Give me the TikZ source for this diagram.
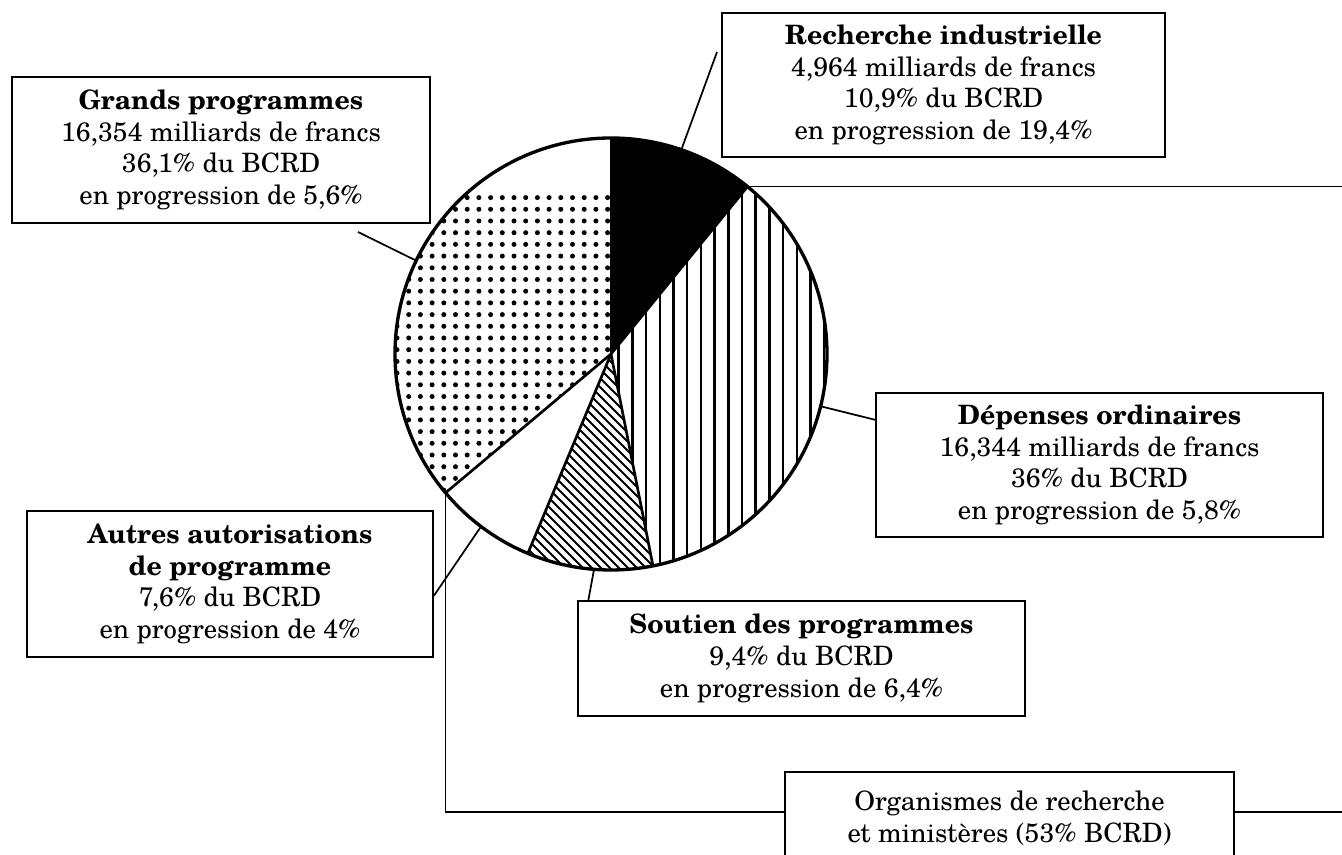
\documentclass[tikz,border=0pt]{standalone}
\usepackage{fontspec}
\setmainfont{texgyreschola}[Extension=.otf,UprightFont=*-regular,BoldFont=*-bold,ItalicFont=*-italic,BoldItalicFont=*-bolditalic]
\usetikzlibrary{calc}
\tikzset{
  lbl/.style={draw, line width=1.3pt, fill=white, align=center, inner sep=0pt,
              font=\fontsize{20}{23.8}\selectfont},
  conn/.style={line width=1.3pt},
  sep/.style={line width=2pt},
  rim/.style={line width=2.5pt},
}
\begin{document}
\begin{tikzpicture}[x=0.75pt,y=0.75pt]
\useasboundingbox (0,0) rectangle (1342,855);
\clip (0,0) rectangle (1342,855);
\fill[white] (0,0) rectangle (1342,855);
\coordinate (O) at (611,501);
\coordinate (farR) at (1370,0);

% --- dotted slice: Grands programmes
\begin{scope}
  \clip (O) -- ++(90:216) arc[start angle=90,end angle=220,radius=216] -- cycle;
  \foreach \i in {0,...,19}{\foreach \j in {0,...,32}{
    \fill (397+\i*11.7, 283+\j*11.7) circle[radius=2.5];}}
\end{scope}
% --- dark slice: Recherche industrielle
\fill (O) -- ++(50.8:216) arc[start angle=50.8,end angle=90,radius=216] -- cycle;
% --- vertical stripes: Depenses ordinaires
\begin{scope}
  \clip (O) -- ++(281.2:216) arc[start angle=281.2,end angle=410.8,radius=216] -- cycle;
  \foreach \k in {0,...,17}{\draw[line width=1.9pt] (605+\k*13.7, 250) -- ++(0,500);}
\end{scope}
% --- hatched slice: Soutien des programmes
\begin{scope}
  \clip (O) -- ++(247.36:216) arc[start angle=247.36,end angle=281.2,radius=216] -- cycle;
  \foreach \c in {780,789,...,1180}{\draw[line width=1.4pt] (\c-520, 520) -- (\c-270, 270);}
\end{scope}

% --- anchor points on the pie
\coordinate (pG) at ($(O)+(154.4:216)$);
\coordinate (gG) at (358,623);
\coordinate (pR) at ($(O)+(71:216)$);
\coordinate (gR) at (717,803);
\coordinate (pD) at ($(O)+(-14:216)$);
\coordinate (pS) at ($(O)+(265.5:216)$);
\coordinate (pA) at ($(O)+(233:216)$);
\coordinate (b1) at ($(O)+(50.8:216)$);
\coordinate (b2) at ($(O)+(220:216)$);

% --- slice boundaries and rim
\foreach \a in {90,220,247.36,281.2,50.8}{\draw[sep] (O) -- ++(\a:216);}
\draw[rim] (O) circle[radius=216];

% --- labels
\node[lbl, minimum width=313.5pt, minimum height=109.5pt] (gp) at (221,705)
  {\textbf{Grands programmes}\\16,354 milliards de francs\\36,1\% du BCRD\\en progression de 5,6\%};
\node[lbl, minimum width=332.25pt, minimum height=108pt] (rec) at (943.5,770)
  {\textbf{Recherche industrielle}\\4,964 milliards de francs\\10,9\% du BCRD\\en progression de 19,4\%};
\node[lbl, minimum width=335.25pt, minimum height=108pt] (dep) at (1099.5,390)
  {\textbf{Dépenses ordinaires}\\16,344 milliards de francs\\36\% du BCRD\\en progression de 5,8\%};
\node[lbl, minimum width=304.5pt, minimum height=109.5pt] (aut) at (230,271)
  {\textbf{Autres autorisations}\\\textbf{de programme}\\7,6\% du BCRD\\en progression de 4\%};
\node[lbl, minimum width=335.25pt, minimum height=86.25pt] (sou) at (801.5,196.5)
  {\textbf{Soutien des programmes}\\9,4\% du BCRD\\en progression de 6,4\%};
\node[lbl, minimum width=336.75pt, minimum height=69pt] (org) at (1009.5,37)
  {Organismes de recherche\\et ministères (53\% BCRD)};

\draw[conn] (gG) -- (pG);
\draw[conn] (pR) -- (gR);
\draw[conn] (pD) -- ($(dep.north west)!0.19!(dep.south west)$);
\draw[conn] (pS) -- ($(sou.north west)!0.025!(sou.north east)$);
\draw[conn] (pA) -- ($(aut.north east)!0.58!(aut.south east)$);

% --- bracket of the 53 %
\draw[conn] (b2) |- ([yshift=4.5pt]org.west);
\draw[conn] (b1) -- (b1 -| farR) |- ([yshift=4.5pt]org.east);
\end{tikzpicture}
\end{document}
